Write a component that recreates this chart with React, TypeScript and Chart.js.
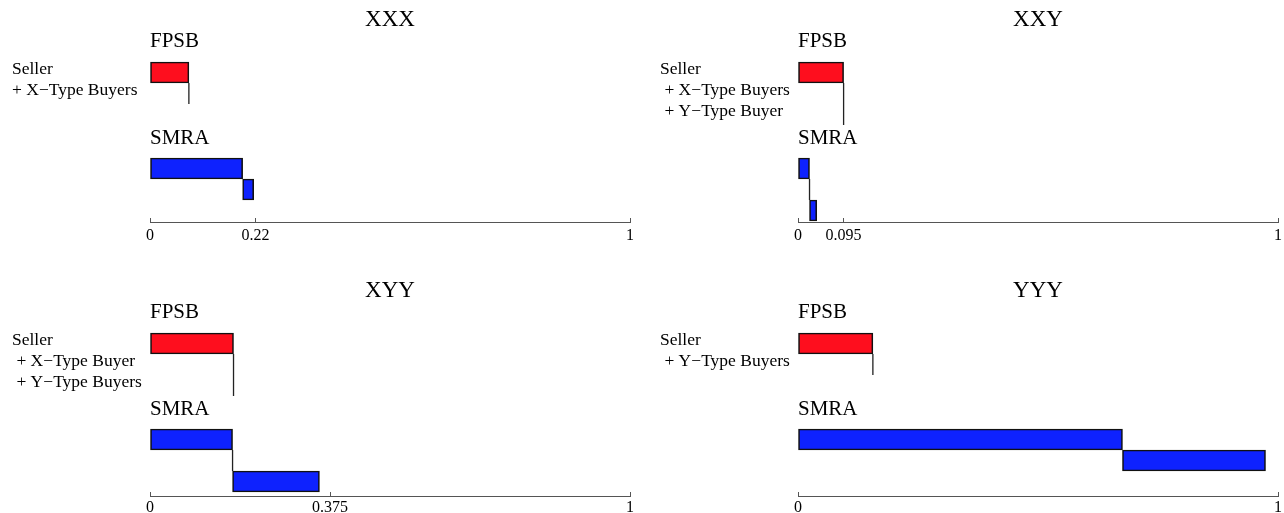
import React, { useEffect, useRef } from "react";
import { Chart, registerables } from "chart.js";

Chart.register(...registerables);

// ---- data ----
const panelTitles = ["XXX", "XXY", "XYY", "YYY"];
const participantLines = [
  ["Seller", "+ X\u2212Type Buyers"],
  ["Seller", " + X\u2212Type Buyers", " + Y\u2212Type Buyer"],
  ["Seller", " + X\u2212Type Buyer", " + Y\u2212Type Buyers"],
  ["Seller", " + Y\u2212Type Buyers"],
];
const fpsbRevenue = [0.081, 0.095, 0.174, 0.156];
const smraFirst = [0.193, 0.024, 0.172, 0.676];
const smraFinal = [0.216, 0.039, 0.353, 0.974];
const markedTick: (number | null)[] = [0.22, 0.095, 0.375, null];
const axisEnds = [0, 1];

// ---- layout / style ----
const FONT = "'Liberation Serif', 'Times New Roman', serif";
const RED = "#fe0e1e";
const BLUE = "#0e22fe";
const EDGE = "#111111";
const AXIS = "#555555";
const ROW = 21;
const PANEL_W = 642;
const panelLeft = [0, 642, 0, 642];
const panelTop = [0, 0, 271, 271];
const panelH = [257, 257, 242, 242];
const axisY = [222, 222, 225, 225];
const padLeft = [150, 156, 150, 156];
const padRight = [12, 6, 12, 6];
const tickPad = [8, 8, 6, 6];
const AREA_TOP = 62;
const SMRA_OFFSET = 96 / ROW; // rows between FPSB bar and first SMRA bar

function buildConfig(i: number) {
  const extra = participantLines[i].length - 1;
  const yMax = (axisY[i] - AREA_TOP) / ROW;
  const r1 = SMRA_OFFSET + 0.5;
  const r2 = r1 + extra;
  const ticks = [axisEnds[0], ...(markedTick[i] !== null ? [markedTick[i] as number] : []), axisEnds[1]];

  const textPlugin = {
    id: "panelText",
    afterDraw(chart: any) {
      const { ctx, chartArea } = chart;
      const L = chartArea.left;
      const T = chartArea.top;
      ctx.save();
      ctx.fillStyle = "#000";
      ctx.textBaseline = "alphabetic";
      ctx.textAlign = "center";
      ctx.font = `23px ${FONT}`;
      ctx.fillText(panelTitles[i], (chartArea.left + chartArea.right) / 2, T - 36);
      ctx.textAlign = "left";
      ctx.font = `21px ${FONT}`;
      ctx.fillText("FPSB", L, T - 15);
      ctx.fillText("SMRA", L, T + 82);
      ctx.font = `17.5px ${FONT}`;
      participantLines[i].forEach((line, k) => {
        ctx.fillText(line, L - 138, T + 12 + ROW * k);
      });
      ctx.restore();
    },
  };

  return {
    type: "bar",
    data: {
      datasets: [
        {
          type: "line",
          data: [
            { x: fpsbRevenue[i], y: 1 },
            { x: fpsbRevenue[i], y: 1 + extra },
          ],
          borderColor: "#222",
          borderWidth: 1.3,
          pointRadius: 0,
          fill: false,
          clip: false,
        },
        {
          type: "line",
          data: [
            { x: smraFirst[i], y: r1 + 0.5 },
            { x: smraFirst[i], y: r2 - 0.5 },
          ],
          borderColor: "#222",
          borderWidth: 1.3,
          pointRadius: 0,
          fill: false,
          clip: false,
        },
        {
          type: "bar",
          data: [{ x: [0, fpsbRevenue[i]], y: 0.5 }],
          backgroundColor: RED,
          borderColor: EDGE,
          borderWidth: 1.6,
          borderSkipped: false,
          barThickness: ROW,
          grouped: false,
          clip: false,
        },
        {
          type: "bar",
          data: [
            { x: [0, smraFirst[i]], y: r1 },
            { x: [smraFirst[i], smraFinal[i]], y: r2 },
          ],
          backgroundColor: BLUE,
          borderColor: EDGE,
          borderWidth: 1.6,
          borderSkipped: false,
          barThickness: ROW,
          grouped: false,
          clip: false,
        },
      ],
    },
    options: {
      indexAxis: "y",
      responsive: false,
      animation: false,
      events: [],
      devicePixelRatio: 1,
      layout: { padding: { left: padLeft[i], right: padRight[i], top: AREA_TOP, bottom: 0 } },
      plugins: { legend: { display: false }, tooltip: { enabled: false }, title: { display: false } },
      scales: {
        x: {
          type: "linear",
          position: "bottom",
          min: 0,
          max: 1,
          offset: false,
          afterBuildTicks: (s: any) => {
            s.ticks = ticks.map((v) => ({ value: v }));
          },
          afterFit: (s: any) => {
            s.height = panelH[i] - axisY[i];
            s.paddingLeft = 0;
            s.paddingRight = 0;
          },
          ticks: {
            autoSkip: false,
            maxRotation: 0,
            padding: tickPad[i],
            color: "#000",
            font: { family: FONT, size: 16 },
            callback: (v: any) => String(v),
          },
          grid: { drawOnChartArea: false, tickLength: -4, color: AXIS, lineWidth: 1, offset: false },
          border: { display: true, color: AXIS, width: 1 },
        },
        y: {
          type: "linear",
          display: false,
          reverse: true,
          offset: false,
          grid: { offset: false },
          min: 0,
          max: yMax,
        },
      },
    },
    plugins: [textPlugin],
  };
}

function Panel({ index }: { index: number }) {
  const ref = useRef<HTMLCanvasElement | null>(null);
  useEffect(() => {
    if (!ref.current) return;
    const chart = new Chart(ref.current, buildConfig(index) as any);
    return () => chart.destroy();
  }, [index]);
  return (
    <canvas
      ref={ref}
      width={PANEL_W}
      height={panelH[index]}
      style={{
        position: "absolute",
        left: panelLeft[index],
        top: panelTop[index],
        width: PANEL_W,
        height: panelH[index],
      }}
    />
  );
}

export default function App() {
  return (
    <div
      style={{
        position: "absolute",
        left: 0,
        top: 0,
        width: 1284,
        height: 513,
        overflow: "hidden",
        background: "#fff",
      }}
    >
      {panelTitles.map((_, i) => (
        <Panel key={i} index={i} />
      ))}
    </div>
  );
}
